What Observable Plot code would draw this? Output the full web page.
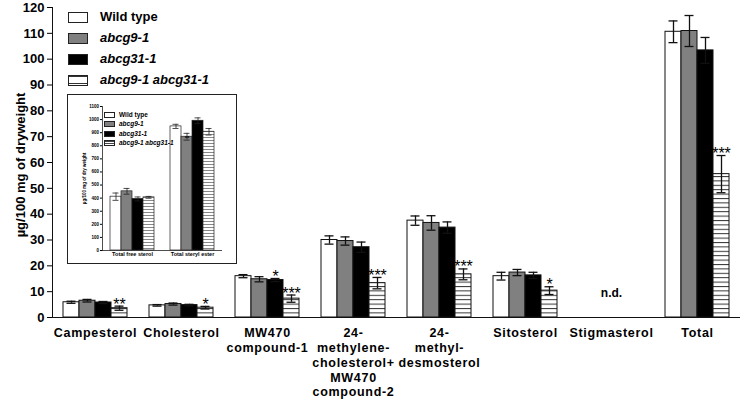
<!DOCTYPE html>
<html><head><meta charset="utf-8">
<script src="https://cdn.jsdelivr.net/npm/d3@7"></script>
<script src="https://cdn.jsdelivr.net/npm/@observablehq/plot@0.6"></script>
<style>
body{margin:0;background:#fff;font-family:"Liberation Sans",Arial,sans-serif;}
#wrap{position:relative;width:740px;height:401px;overflow:hidden;background:#fff}
.leg{position:absolute;font-weight:bold;color:#000;white-space:nowrap}
.sw{position:absolute;box-sizing:border-box;border:1px solid #222}
#inset{position:absolute;left:67px;top:94px;width:168px;height:168px;border:1px solid #222;background:#fff}
#ylab{position:absolute;left:20px;top:165px;font-weight:bold;font-size:13px;white-space:nowrap;transform:translate(-50%,-50%) rotate(-90deg);color:#000}
</style></head><body><div id="wrap"></div>
<script>
// ---- main chart data ----
const categories = ["Campesterol","Cholesterol","MW470 compound-1","24-methylene-cholesterol+MW470 compound-2","24-methyl-desmosterol","Sitosterol","Stigmasterol","Total"];
const categoryLabels = ["Campesterol","Cholesterol","MW470\ncompound-1","24-\nmethylene-\ncholesterol+\nMW470\ncompound-2","24-\nmethyl-\ndesmosterol","Sitosterol","Stigmasterol","Total"];
const genotypes = ["Wild type","abcg9-1","abcg31-1","abcg9-1 abcg31-1"];
const wtMean     = [5.9, 4.7, 16.0, 30.0, 37.5, 16.0, 0, 110.6];
const g9Mean     = [6.5, 5.2, 14.8, 29.6, 36.6, 17.4, 0, 110.9];
const g31Mean    = [5.8, 4.8, 14.5, 27.2, 34.8, 16.3, 0, 103.4];
const doubleMean = [3.6, 3.8, 7.3, 13.3, 16.7, 10.4, 0, 55.5];
const wtErr      = [0.4, 0.3, 0.6, 1.6, 1.8, 1.5, 0, 4.2];
const g9Err      = [0.5, 0.4, 1.0, 1.6, 2.8, 1.2, 0, 6.0];
const g31Err     = [0.4, 0.3, 0.6, 2.0, 2.2, 1.2, 0, 5.0];
const doubleErr  = [0.8, 0.5, 1.4, 2.2, 2.1, 1.5, 0, 7.2];
const wtStars     = ["","","","","","","",""];
const g9Stars     = ["","","","","","","",""];
const g31Stars    = ["","","*","","","","",""];
const doubleStars = ["**","*","***","***","***","*","","***"];
const notDetected = [{cat:"Stigmasterol", y:9.3, text:"n.d."}];
const yTicks = [0,10,20,30,40,50,60,70,80,90,100,110,120];
const yLabel = "µg/100 mg of dryweight";

// ---- inset data ----
const insetCategories = ["Total free sterol","Total steryl ester"];
const insetWtMean = [411, 948];
const insetG9Mean = [452, 869];
const insetG31Mean = [394, 991];
const insetDoubleMean = [406, 907];
const insetWtErr = [28, 16];
const insetG9Err = [22, 26];
const insetG31Err = [15, 22];
const insetDoubleErr = [7, 25];
const insetG9Stars = ["","**"];
const insetTicks = [0,100,200,300,400,500,600,700,800,900,1000,1100];

const fills = ["white","#808080","black","url(#hatchMain)"];
const insetFills = ["white","#808080","black","url(#hatchInset)"];

const means = [wtMean,g9Mean,g31Mean,doubleMean];
const errs = [wtErr,g9Err,g31Err,doubleErr];
const stars = [wtStars,g9Stars,g31Stars,doubleStars];
const rows = [];
categories.forEach((c,i)=>genotypes.forEach((g,j)=>{
  if (means[j][i] > 0) rows.push({cat:c, geno:g, mean:means[j][i], err:errs[j][i], star:stars[j][i]});
}));
const iMeans = [insetWtMean,insetG9Mean,insetG31Mean,insetDoubleMean];
const iErrs = [insetWtErr,insetG9Err,insetG31Err,insetDoubleErr];
const iStars = [["",""],insetG9Stars,["",""],["",""]];
const irows = [];
insetCategories.forEach((c,i)=>genotypes.forEach((g,j)=>{
  irows.push({cat:c, geno:g, mean:iMeans[j][i], err:iErrs[j][i], star:iStars[j][i]});
}));

const font = '"Liberation Sans", Arial, sans-serif';
const main = Plot.plot({
  width:740, height:401, marginLeft:52, marginRight:0, marginTop:7, marginBottom:84,
  style:{fontFamily:font, fontWeight:"bold", fontSize:"12px", background:"white", color:"black", overflow:"visible"},
  fx:{domain:categories, padding:0, label:null},
  x:{domain:genotypes, paddingInner:0, paddingOuter:0.53, axis:null},
  y:{domain:[0,120]},
  color:{domain:genotypes, range:fills},
  marks:[
    Plot.barY(rows,{fx:"cat", x:"geno", y:"mean", fill:"geno", stroke:"#111", strokeWidth:1}),
    Plot.ruleX(rows,{fx:"cat", x:"geno", y1:d=>d.mean-d.err, y2:d=>d.mean+d.err, stroke:"#111", strokeWidth:1.3}),
    Plot.tickY(rows,{fx:"cat", x:"geno", y:d=>d.mean+d.err, insetLeft:3.5, insetRight:3.5, stroke:"#111", strokeWidth:1.3}),
    Plot.tickY(rows,{fx:"cat", x:"geno", y:d=>d.mean-d.err, insetLeft:3.5, insetRight:3.5, stroke:"#111", strokeWidth:1.3}),
    Plot.text(rows.filter(d=>d.star),{fx:"cat", x:"geno", y:d=>d.mean+d.err, text:"star", lineAnchor:"bottom", dy:3.5, fontSize:16, fontWeight:"normal"}),
    Plot.text(notDetected,{fx:"cat", y:"y", text:"text", fontSize:12}),
    Plot.ruleY([0],{stroke:"#111"}),
    Plot.frame({anchor:"left", facetAnchor:"left", stroke:"#111"}),
    Plot.axisY({ticks:yTicks, tickSize:5, tickPadding:3, fontSize:13, label:null}),
    Plot.axisFx({anchor:"bottom", tickSize:0, tickPadding:9.5, lineHeight:1.18, fontSize:12.5, label:null, tickFormat:d=>categoryLabels[categories.indexOf(d)]})
  ]
});
const defs1 = document.createElementNS("http://www.w3.org/2000/svg","defs");
defs1.innerHTML = '<pattern id="hatchMain" patternUnits="userSpaceOnUse" width="8" height="4.4"><rect width="8" height="4.4" fill="white"/><line x1="0" x2="8" y1="0.5" y2="0.5" stroke="#333" stroke-width="1"/></pattern>';
main.insertBefore(defs1, main.firstChild);
main.querySelectorAll('g[aria-label="fx-axis tick label"]').forEach(g=>g.setAttribute("letter-spacing","0.7px"));
const wrap = document.getElementById("wrap");
wrap.appendChild(main);

const yl = document.createElement("div");
yl.id = "ylab";
yl.textContent = yLabel;
wrap.appendChild(yl);

// main legend
const legY = [17,38,59,80];
genotypes.forEach((g,j)=>{
  const sw = document.createElement("div");
  sw.className = "sw";
  Object.assign(sw.style,{left:"68px", top:(legY[j]-5)+"px", width:"20px", height:"11px"});
  if (j===0) sw.style.background = "white";
  if (j===1) sw.style.background = "#808080";
  if (j===2) sw.style.background = "black";
  if (j===3) sw.style.background = "repeating-linear-gradient(to bottom, #333 0px, #333 1px, white 1px, white 3.5px)";
  wrap.appendChild(sw);
  const t = document.createElement("div");
  t.className = "leg";
  t.textContent = g;
  Object.assign(t.style,{left:"100px", top:(legY[j]-8)+"px", fontSize:"13px", lineHeight:"16px", fontStyle: j===0 ? "normal" : "italic"});
  wrap.appendChild(t);
});

// inset
const inset = document.createElement("div");
inset.id = "inset";
wrap.appendChild(inset);
const isvg = Plot.plot({
  width:168, height:168, marginLeft:34, marginRight:14, marginTop:11, marginBottom:13,
  style:{fontFamily:font, fontWeight:"bold", fontSize:"5px", background:"white", color:"black", overflow:"visible"},
  fx:{domain:insetCategories, padding:0, label:null},
  x:{domain:genotypes, paddingInner:0, paddingOuter:0.7, axis:null},
  y:{domain:[0,1100]},
  color:{domain:genotypes, range:insetFills},
  marks:[
    Plot.barY(irows,{fx:"cat", x:"geno", y:"mean", fill:"geno", stroke:"#222", strokeWidth:0.7}),
    Plot.ruleX(irows,{fx:"cat", x:"geno", y1:d=>d.mean-d.err, y2:d=>d.mean+d.err, stroke:"#222", strokeWidth:0.8}),
    Plot.tickY(irows,{fx:"cat", x:"geno", y:d=>d.mean+d.err, insetLeft:2.5, insetRight:2.5, stroke:"#222", strokeWidth:0.8}),
    Plot.tickY(irows,{fx:"cat", x:"geno", y:d=>d.mean-d.err, insetLeft:2.5, insetRight:2.5, stroke:"#222", strokeWidth:0.8}),
    Plot.text(irows.filter(d=>d.star),{fx:"cat", x:"geno", y:d=>d.mean, text:"star", lineAnchor:"bottom", dy:3, fontSize:6}),
    Plot.ruleY([0],{stroke:"#222", strokeWidth:0.8}),
    Plot.frame({anchor:"left", facetAnchor:"left", stroke:"#222", strokeWidth:0.8}),
    Plot.axisY({ticks:insetTicks, tickSize:2, tickPadding:1.5, fontSize:4.5, tickFormat:d=>String(d), label:"µg/100 mg of dry weight", labelAnchor:"center", labelOffset:20, labelArrow:"none"}),
    Plot.axisFx({anchor:"bottom", tickSize:0, tickPadding:2, fontSize:5.5, label:null})
  ]
});
const defs2 = document.createElementNS("http://www.w3.org/2000/svg","defs");
defs2.innerHTML = '<pattern id="hatchInset" patternUnits="userSpaceOnUse" width="6" height="3"><rect width="6" height="3" fill="white"/><line x1="0" x2="6" y1="0.5" y2="0.5" stroke="#555" stroke-width="0.7"/></pattern>';
isvg.insertBefore(defs2, isvg.firstChild);
inset.appendChild(isvg);

const iLegY = [19.5,29,38.5,48];
genotypes.forEach((g,j)=>{
  const sw = document.createElement("div");
  sw.className = "sw";
  Object.assign(sw.style,{left:"36px", top:(iLegY[j]-3)+"px", width:"11px", height:"6px", borderWidth:"0.7px"});
  if (j===0) sw.style.background = "white";
  if (j===1) sw.style.background = "#808080";
  if (j===2) sw.style.background = "black";
  if (j===3) sw.style.background = "repeating-linear-gradient(to bottom, #444 0px, #444 0.7px, white 0.7px, white 2px)";
  inset.appendChild(sw);
  const t = document.createElement("div");
  t.className = "leg";
  t.textContent = g;
  Object.assign(t.style,{left:"51px", top:(iLegY[j]-4)+"px", fontSize:"6.5px", lineHeight:"8px", fontStyle: j===0 ? "normal" : "italic"});
  inset.appendChild(t);
});
</script></body></html>
